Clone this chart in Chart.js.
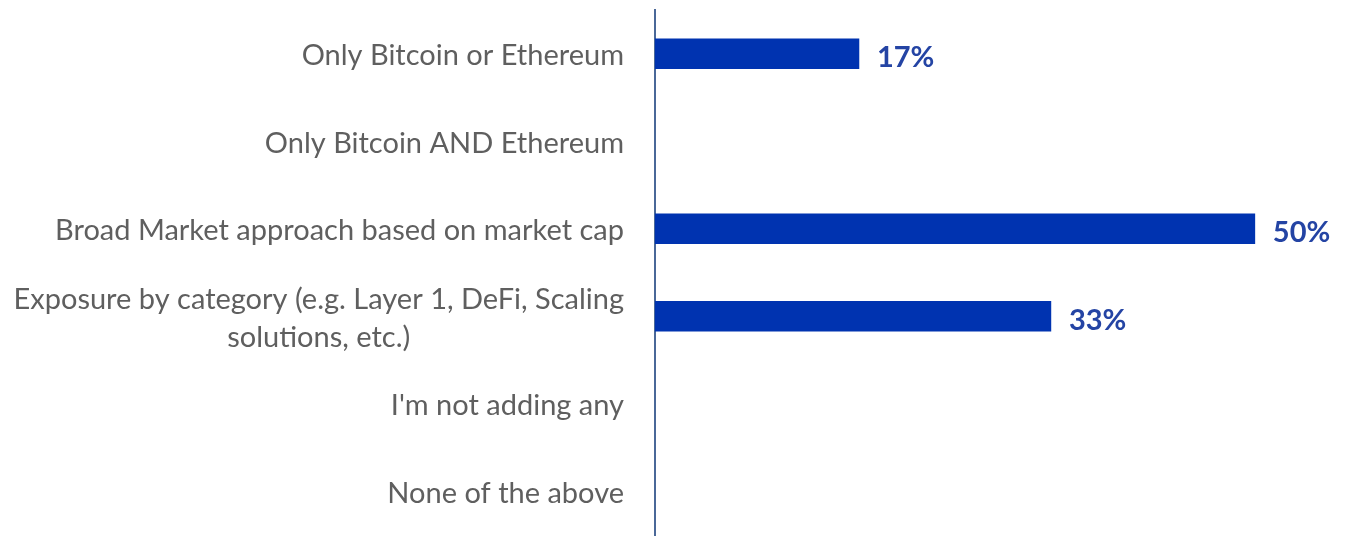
<!DOCTYPE html>
<html>
<head>
<meta charset="utf-8">
<script src="https://cdn.jsdelivr.net/npm/chart.js@4"></script>
<style>
  html, body { margin: 0; padding: 0; background: #fff; }
  #wrap { width: 1346px; height: 536px; }
</style>
</head>
<body>
<div id="wrap"><canvas id="chart"></canvas></div>
<script>
const categories = [
  'Only Bitcoin or Ethereum',
  'Only Bitcoin AND Ethereum',
  'Broad Market approach based on market cap',
  ['Exposure by category (e.g. Layer 1, DeFi, Scaling', 'solutions, etc.)'],
  "I'm not adding any",
  'None of the above'
];
const shares = [17, null, 50, 33, null, null];

const labelFont = '29px Lato, sans-serif';
const valueFont = 'bold 29px Lato, sans-serif';

// draws the category names (second line of a wrapped label is centred under the first)
const categoryLabels = {
  id: 'categoryLabels',
  afterDraw(chart) {
    const ctx = chart.ctx;
    const y = chart.scales.y;
    const right = chart.chartArea.left - 31;
    ctx.save();
    ctx.font = labelFont;
    ctx.fillStyle = '#5f5f5f';
    ctx.textBaseline = 'middle';
    categories.forEach((c, i) => {
      const cy = y.getPixelForValue(i) + 2;
      if (Array.isArray(c)) {
        const w = Math.max(...c.map(s => ctx.measureText(s).width));
        ctx.textAlign = 'center';
        const lh = 38;
        c.forEach((s, j) => {
          ctx.fillText(s, right - w / 2, cy + (j - (c.length - 1) / 2) * lh);
        });
      } else {
        ctx.textAlign = 'right';
        ctx.fillText(c, right, cy);
      }
    });
    ctx.restore();
  }
};

// value labels at the end of each bar
const valueLabels = {
  id: 'valueLabels',
  afterDatasetsDraw(chart) {
    const ctx = chart.ctx;
    const meta = chart.getDatasetMeta(0);
    ctx.save();
    ctx.font = valueFont;
    ctx.fillStyle = '#2444a4';
    ctx.textAlign = 'left';
    ctx.textBaseline = 'middle';
    meta.data.forEach((bar, i) => {
      if (shares[i] == null) return;
      ctx.fillText(shares[i] + '%', bar.x + 18, bar.y + 4);
    });
    ctx.restore();
  }
};

new Chart(document.getElementById('chart'), {
  type: 'bar',
  data: {
    labels: categories,
    datasets: [{
      data: shares,
      backgroundColor: '#0033b0',
      barThickness: 30
    }]
  },
  options: {
    indexAxis: 'y',
    responsive: true,
    maintainAspectRatio: false,
    animation: false,
    layout: { padding: { top: 10, bottom: 1, left: 0, right: 0 } },
    plugins: {
      legend: { display: false },
      tooltip: { enabled: false }
    },
    scales: {
      x: {
        display: false,
        min: 0,
        max: 57.6
      },
      y: {
        afterFit(scale) { scale.width = 655; },
        grid: { display: false, drawTicks: false },
        border: { display: true, color: '#4a6898', width: 2 },
        ticks: { display: false }
      }
    }
  },
  plugins: [categoryLabels, valueLabels]
});
</script>
</body>
</html>
